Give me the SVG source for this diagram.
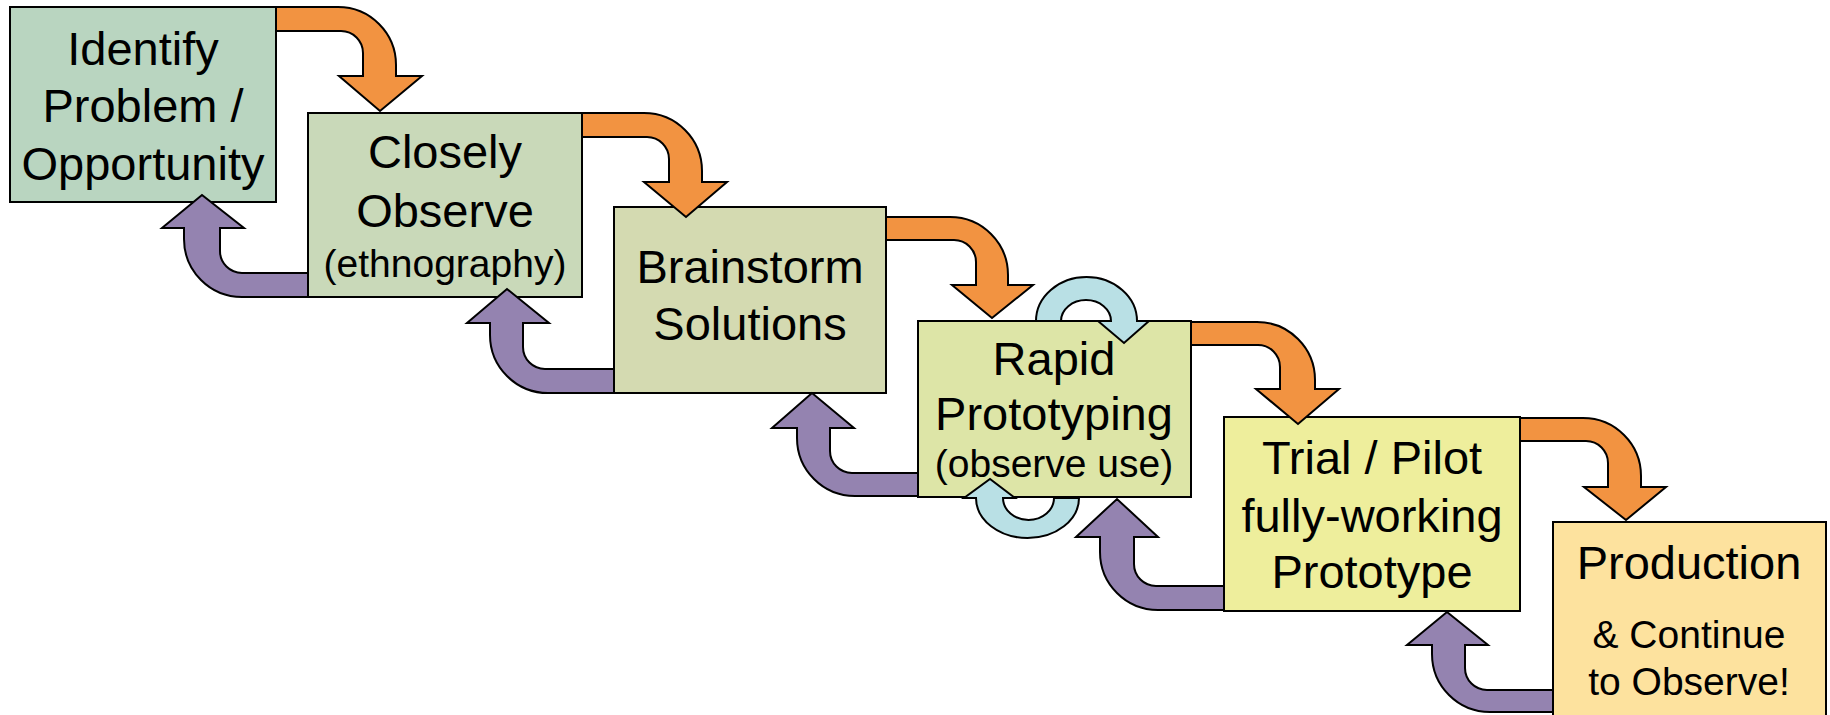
<svg xmlns="http://www.w3.org/2000/svg" width="1830" height="715" viewBox="0 0 1830 715">
<style>
.box{stroke:#000;stroke-width:2}
.t{font-family:"Liberation Sans",Arial,sans-serif;font-size:47px;fill:#000;text-anchor:middle}
.s{font-size:39px}
.or{fill:#f29341;stroke:#000;stroke-width:2;stroke-linejoin:miter}
.pu{fill:#9483b0;stroke:#000;stroke-width:2}
.lb{fill:#b9e0e5;stroke:#000;stroke-width:2}
</style>
<rect width="1830" height="715" fill="#fff"/>
<g id="identify">
<rect class="box" x="10" y="7" width="266" height="195" fill="#b9d5c0"/>
<text class="t" x="143" y="65">Identify</text>
<text class="t" x="143" y="122">Problem /</text>
<text class="t" x="143" y="180">Opportunity</text>
</g>
<g id="observe">
<rect class="box" x="308" y="113" width="274" height="184" fill="#c9d9b9"/>
<text class="t" x="445" y="168">Closely</text>
<text class="t" x="445" y="227">Observe</text>
<text class="t s" x="445" y="277">(ethnography)</text>
</g>
<g id="brainstorm">
<rect class="box" x="614" y="207" width="272" height="186" fill="#d4dab1"/>
<text class="t" x="750" y="283">Brainstorm</text>
<text class="t" x="750" y="340">Solutions</text>
</g>
<g id="prototyping">
<rect class="box" x="918" y="321" width="273" height="176" fill="#dde5a7"/>
<text class="t" x="1054" y="375">Rapid</text>
<text class="t" x="1054" y="430">Prototyping</text>
<text class="t s" x="1054" y="477">(observe use)</text>
</g>
<g id="trial">
<rect class="box" x="1224" y="417" width="296" height="194" fill="#eeee9c"/>
<text class="t" x="1372" y="474">Trial / Pilot</text>
<text class="t" x="1372" y="532">fully-working</text>
<text class="t" x="1372" y="588">Prototype</text>
</g>
<g id="production">
<rect class="box" x="1553" y="522" width="273" height="200" fill="#fde29e"/>
<text class="t" x="1689" y="579">Production</text>
<text class="t s" x="1689" y="648">&amp; Continue</text>
<text class="t s" x="1689" y="695">to Observe!</text>
</g>
<g id="connectors">
<!-- forward (orange) -->
<path class="or" d="M276,7 H338 A58 58 0 0 1 396,65 V76 H422 L380,111 L339,76 H363 V53 A22 22 0 0 0 341,31 H276 Z"/>
<path class="or" d="M582,113 H644 A58 58 0 0 1 702,171 V182 H727 L686,217 L644,182 H669 V159 A22 22 0 0 0 647,137 H582 Z"/>
<path class="or" d="M886,217 H950 A58 58 0 0 1 1008,275 V285 H1033 L992,318 L952,285 H976 V262 A22 22 0 0 0 954,240 H886 Z"/>
<path class="or" d="M1191,322 H1257 A58 58 0 0 1 1315,380 V389 H1339 L1298,424 L1256,389 H1280 V367 A22 22 0 0 0 1258,345 H1191 Z"/>
<path class="or" d="M1520,418 H1583 A58 58 0 0 1 1641,476 V487 H1666 L1626,520 L1584,487 H1608 V463 A22 22 0 0 0 1586,441 H1520 Z"/>
<!-- feedback (purple) -->
<path class="pu" d="M308,297 H242 A58 58 0 0 1 184,239 V228 H162 L202,195 L244,228 H220 V251 A22 22 0 0 0 242,273 H308 Z"/>
<path class="pu" d="M614,393 H548 A58 58 0 0 1 490,335 V323 H467 L507,289 L549,323 H523 V347 A22 22 0 0 0 545,369 H614 Z"/>
<path class="pu" d="M918,496 H855 A58 58 0 0 1 797,438 V428 H772 L812,393 L854,428 H830 V451 A22 22 0 0 0 852,473 H918 Z"/>
<path class="pu" d="M1224,610 H1158 A58 58 0 0 1 1100,552 V537 H1076 L1117,499 L1158,537 H1134 V564 A22 22 0 0 0 1156,586 H1224 Z"/>
<path class="pu" d="M1553,712 H1490 A58 58 0 0 1 1432,654 V645 H1407 L1447,612 L1488,645 H1465 V668 A22 22 0 0 0 1487,690 H1553 Z"/>
<!-- iteration loops (light blue) -->
<path class="lb" d="M1036,321 A50.5 44 0 0 1 1137,321 H1149 L1124,343 L1098,321 H1111 A25 21 0 0 0 1061,321 Z"/>
<path class="lb" d="M1079,498 A51.5 40 0 0 1 976,498 H964 L990,479 L1015,498 H1003 A25.5 22 0 0 0 1054,498 Z"/>
</g>
</svg>
